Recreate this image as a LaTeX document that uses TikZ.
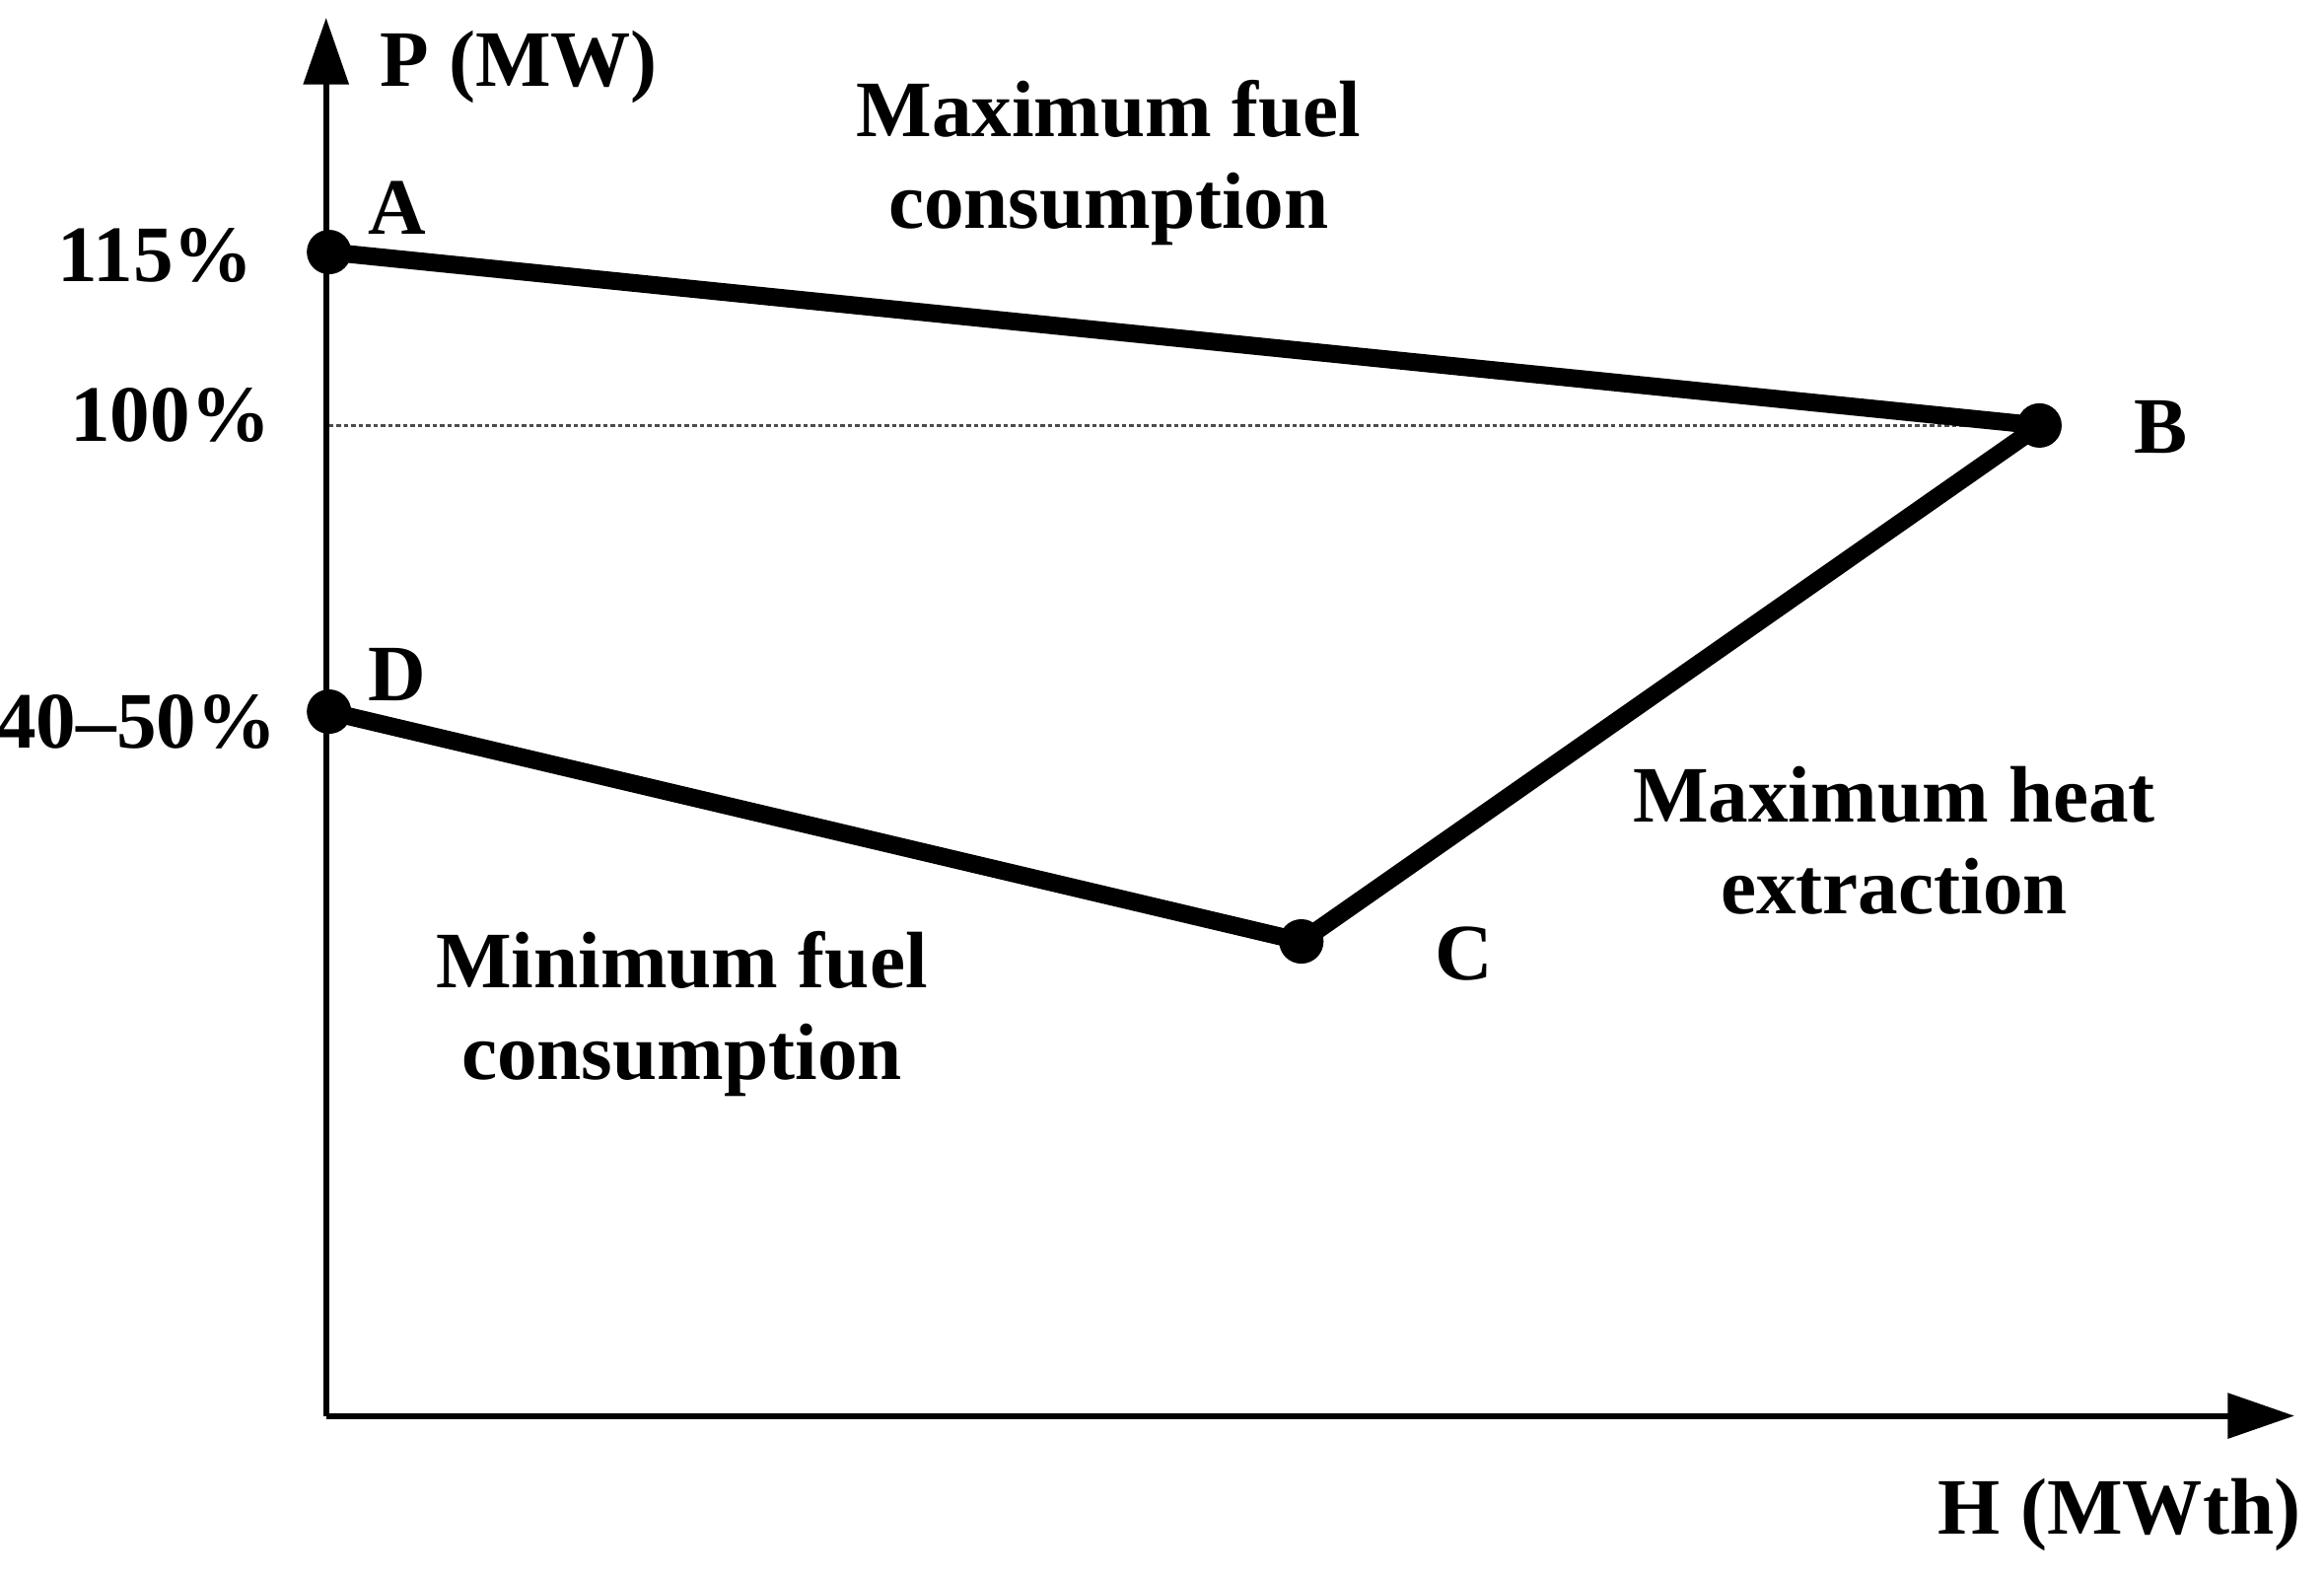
\documentclass[tikz,border=0pt]{standalone}
\usepackage{fontspec}
\setmainfont{Liberation Serif}
\usetikzlibrary{arrows.meta}
\tikzset{
  lbl/.style={font=\fontsize{54}{62}\selectfont\bfseries, align=center, inner sep=0pt},
  edge/.style={line width=12pt, line join=round},
  axis/.style={line width=4pt, -{Triangle[length=45pt,width=30pt]}},
  pt/.style={circle, fill=black, minimum size=30pt, inner sep=0pt}
}
\begin{document}
\begin{tikzpicture}[x=1pt,y=-1pt]
\useasboundingbox (0,0) rectangle (1568,1065);
\coordinate (O) at (220,955);
\coordinate (Ytip) at (220,12);
\coordinate (Xtip) at (1548,955);
\draw[axis] (O) -- (Ytip);
\draw[axis] (O) -- (Xtip);
\node[pt] (A) at (222,170) {};
\node[pt] (B) at (1376,287) {};
\node[pt] (C) at (878,635) {};
\node[pt] (D) at (222,480) {};
\coordinate (Y100) at (222,287);
\draw[densely dashed, line width=1.5pt, black!70] (Y100) -- (B.center);
\draw[edge] (A.center) -- (B.center) -- (C.center) -- (D.center);
\node[lbl] (pmw) at (350,45) {P (MW)};
\node[lbl] (l115) at (105,172) {115\%};
\node[lbl] (l100) at (115,280) {100\%};
\node[lbl] (l40) at (92,487) {40–50\%};
\node[lbl] (lA) at (268,140) {A};
\node[lbl] (lB) at (1458,288) {B};
\node[lbl] (lC) at (988,643) {C};
\node[lbl] (lD) at (268,455) {D};
\node[lbl] (mfc) at (748,110) {Maximum fuel\\consumption};
\node[lbl] (mhe) at (1278,567) {Maximum heat\\extraction};
\node[lbl] (mnf) at (460,684) {Minimum fuel\\consumption};
\node[lbl] (hmw) at (1430,1022) {H (MWth)};
\end{tikzpicture}
\end{document}
